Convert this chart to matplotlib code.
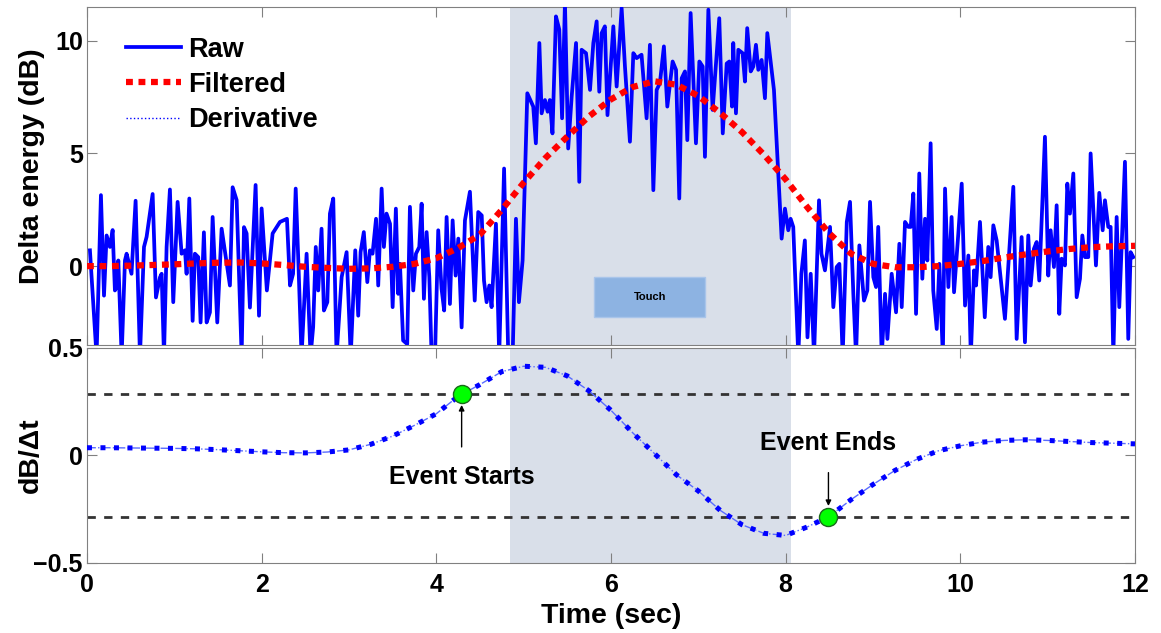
import matplotlib.pyplot as plt
from matplotlib.lines import Line2D
from matplotlib.patches import Rectangle
import numpy as np

plt.rcParams['font.family'] = ['Liberation Sans', 'DejaVu Sans']
plt.rcParams['font.weight'] = 'bold'
plt.rcParams['axes.labelweight'] = 'bold'

# raw delta energy samples (time in s, value in dB)
t_raw = [0.034, 0.11, 0.16, 0.195, 0.225, 0.263, 0.294, 0.32, 0.34, 0.359, 0.397, 0.435, 0.454, 0.51,
         0.557, 0.607, 0.653, 0.683, 0.752, 0.79, 0.836, 0.855, 0.882, 0.912, 0.95, 0.988, 1.038, 1.084,
         1.122, 1.141, 1.172, 1.21, 1.236, 1.274, 1.301, 1.339, 1.37, 1.408, 1.439, 1.492, 1.542, 1.637,
         1.668, 1.714, 1.771, 1.798, 1.828, 1.866, 1.931, 1.97, 2.0, 2.06, 2.126, 2.21, 2.29, 2.325,
         2.36, 2.39, 2.42, 2.457, 2.515, 2.56, 2.59, 2.62, 2.648, 2.686, 2.713, 2.752, 2.782, 2.82,
         2.858, 2.916, 2.973, 3.02, 3.072, 3.106, 3.133, 3.17, 3.21, 3.24, 3.27, 3.31, 3.335, 3.374,
         3.40, 3.43, 3.47, 3.50, 3.537, 3.564, 3.584, 3.62, 3.667, 3.698, 3.736, 3.767, 3.805, 3.832,
         3.858, 3.889, 3.92, 3.946, 3.985, 4.022, 4.06, 4.09, 4.118, 4.156, 4.187, 4.221, 4.252, 4.29,
         4.328, 4.385, 4.44, 4.48, 4.52, 4.546, 4.576, 4.607, 4.633, 4.683, 4.72, 4.776, 4.824, 4.874,
         4.912, 4.946, 4.988, 5.042, 5.11, 5.14, 5.18, 5.206, 5.244, 5.275, 5.30, 5.33, 5.37, 5.408,
         5.44, 5.473, 5.51, 5.55, 5.6, 5.637, 5.664, 5.714, 5.76, 5.798, 5.836, 5.866, 5.893, 5.93,
         5.96, 6.027, 6.065, 6.122, 6.16, 6.217, 6.256, 6.294, 6.35, 6.408, 6.446, 6.485, 6.523, 6.56,
         6.606, 6.645, 6.706, 6.745, 6.782, 6.81, 6.847, 6.874, 6.912, 6.973, 7.012, 7.05, 7.076, 7.115,
         7.164, 7.24, 7.28, 7.325, 7.355, 7.386, 7.4, 7.431, 7.458, 7.507, 7.534, 7.56, 7.6, 7.63,
         7.66, 7.687, 7.725, 7.763, 7.79, 7.866, 7.954, 7.992, 8.03, 8.057, 8.087, 8.145, 8.18, 8.22,
         8.25, 8.287, 8.325, 8.382, 8.41, 8.45, 8.508, 8.546, 8.584, 8.615, 8.653, 8.7, 8.737, 8.775,
         8.806, 8.844, 8.897, 8.935, 8.966, 9.004, 9.035, 9.06, 9.1, 9.138, 9.165, 9.214, 9.264, 9.302,
         9.329, 9.367, 9.405, 9.432, 9.462, 9.493, 9.53, 9.565, 9.596, 9.622, 9.66, 9.69, 9.73, 9.76,
         9.8, 9.825, 9.863, 9.9, 9.928, 9.977, 10.016, 10.054, 10.092, 10.12, 10.157, 10.18, 10.225,
         10.28, 10.32, 10.347, 10.378, 10.416, 10.511, 10.607, 10.645, 10.702, 10.74, 10.778, 10.805,
         10.843, 10.874, 10.904, 10.969, 11.007, 11.034, 11.072, 11.103, 11.133, 11.16, 11.198, 11.225,
         11.255, 11.294, 11.332, 11.37, 11.397, 11.427, 11.465, 11.492, 11.553, 11.591, 11.63, 11.656,
         11.694, 11.721, 11.752, 11.79, 11.82, 11.885, 11.923, 11.95, 11.98]
raw = [0.7, -4, 3.15, -1.31, 1.36, 0.85, 1.6, -1.08, -0.94, 0.25, -4, 0.25, 0.55, -0.34,
       2.9, -4, 0.85, 1.3, 3.2, -1.39, -0.5, -0.34, -4, 0.85, 3.4, -1.6, 2.85, 0.55,
       0.7, -0.34, 3.0, -2.43, 0.55, 0.4, -2.5, 1.5, -2.5, -2.05, 2.18, -2.5, 1.66, -0.86,
       3.5, 2.93, -4, 1.73, 1.45, -1.84, 3.6, -2.2, 2.56, -1.08, 1.45, 1.96, 2.1, -0.86,
       -0.34, 3.44, 0.25, -4, 0.55, -4, -2.7, 0.85, -1.08, 1.66, -1.97, -1.6, 2.33, 3.0,
       -4, -0.49, 0.62, -4, 0.7, -2.2, 0.62, 1.51, -0.71, 0.7, 0.55, 2.1, -0.86, 3.44,
       0.85, 2.33, 1.88, -1.82, 2.55, -1.23, 0.1, -3.3, -3.46, 2.63, -1.08, 0.55, 0.85, 2.77,
       -1.45, 1.51, -0.49, -4, -4, 1.59, -1.0, -1.97, 2.18, -1.68, 2.03, -0.42, 1.22, -2.72,
       2.03, 3.3, -1.53, 2.4, 2.25, -0.64, -1.6, -0.86, -1.82, 1.88, -4, 4.33, -4, -4,
       2.1, -1.6, 0.25, 7.67, 7.08, 5.45, 9.9, 6.78, 7.37, 6.85, 7.37, 5.89, 11.08, 10.5,
       6.56, 11.7, 5.22, 7.52, 9.9, 3.74, 9.6, 9.45, 7.82, 9.9, 10.86, 7.74, 10.34, 10.64,
       6.7, 10.64, 7.97, 11.45, 8.86, 5.52, 9.45, 9.23, 9.38, 6.56, 9.82, 3.37, 7.82, 8.12,
       9.75, 7.08, 9.08, 8.71, 3.0, 8.34, 8.64, 5.59, 11.23, 5.45, 9.08, 8.86, 4.85, 11.38,
       6.93, 11.0, 5.89, 8.99, 9.08, 7.08, 9.9, 6.78, 9.6, 9.45, 8.19, 10.56, 8.64, 8.86,
       9.82, 8.71, 9.15, 7.45, 10.34, 7.82, 1.22, 2.55, 1.59, 2.1, 1.74, -4, -0.34, 1.14,
       -3.16, -0.34, -4, 2.92, 0.55, -0.19, 1.74, -1.82, -0.04, 0.1, -4, 1.96, 2.85, -1.23,
       -4, 0.92, -1.53, -1.08, 2.85, -0.49, -0.93, 1.74, -4, -1.23, -3.23, -0.34, -2.05, 0.99,
       -1.82, 1.96, 1.74, 1.74, 3.22, -2.12, 4.11, -0.56, 2.1, 0.25, 5.45, -1.08, -2.79, 0.1,
       -4, 3.44, -0.93, 2.18, -1.16, 1.44, 3.66, -1.75, 0.47, -4, -0.19, -0.86, 1.96,
       -2.27, 0.85, -0.49, 1.81, 1.14, -2.34, 3.52, -3.23, 1.29, -3.38, 1.36, -0.86,
       0.77, 1.07, -0.64, 5.74, -0.42, 1.59, -0.04, 2.7, -2.12, 0.33, 0.03, 3.66,
       2.33, 4.11, -1.38, -0.56, 1.36, 0.4, 0.4, 5.0, 0.03, 3.25, 1.59, 2.92,
       1.74, 1.74, -4, 2.18, -1.82, 4.63, -3.23, 0.62, 0.4]

# smoothed energy and its derivative, sampled every 0.25 s
t_smooth = [0.0, 0.25, 0.5, 0.75, 1.0, 1.25, 1.5, 1.75, 2.0, 2.25, 2.5, 2.75, 3.0, 3.25, 3.5, 3.75,
            4.0, 4.25, 4.5, 4.75, 5.0, 5.25, 5.5, 5.75, 6.0, 6.25, 6.5, 6.75, 7.0, 7.25, 7.5, 7.75,
            8.0, 8.25, 8.5, 8.75, 9.0, 9.25, 9.5, 9.75, 10.0, 10.25, 10.5, 10.75, 11.0, 11.25, 11.5,
            11.75, 12.0]
filtered = [0.0, 0.0, 0.02, 0.05, 0.08, 0.12, 0.15, 0.16, 0.12, 0.05, -0.03, -0.08, -0.12, -0.1,
            -0.03, 0.1, 0.35, 0.8, 1.4, 2.5, 3.7, 4.8, 5.75, 6.65, 7.4, 7.95, 8.2, 8.05, 7.55, 6.8,
            5.95, 4.95, 3.85, 2.6, 1.45, 0.55, 0.1, -0.05, -0.05, 0.0, 0.1, 0.22, 0.38, 0.52, 0.65,
            0.76, 0.84, 0.88, 0.9]
derivative = [0.036, 0.036, 0.035, 0.034, 0.033, 0.031, 0.027, 0.022, 0.017, 0.013, 0.012, 0.016,
              0.026, 0.052, 0.09, 0.14, 0.194, 0.275, 0.33, 0.39, 0.415, 0.41, 0.37, 0.3, 0.21,
              0.105, 0.008, -0.09, -0.165, -0.255, -0.322, -0.362, -0.372, -0.332, -0.283, -0.205,
              -0.135, -0.07, -0.018, 0.022, 0.045, 0.062, 0.07, 0.073, 0.07, 0.065, 0.06, 0.057,
              0.054]

threshold = 0.285
touch_span = (4.84, 8.06)
event_start = 4.29
event_end = 8.49

blue = '#0000ff'
shade = '#d9dfe9'
frame = '#808080'

fig = plt.figure(figsize=(11.61, 6.33), dpi=100)
ax1 = fig.add_axes([0.0749, 0.455, 0.9027, 0.534])
ax2 = fig.add_axes([0.0749, 0.1106, 0.9027, 0.3397], sharex=ax1)

for ax in (ax1, ax2):
    ax.axvspan(*touch_span, color=shade, zorder=0, lw=0)
    ax.tick_params(direction='in', top=True, right=True, length=7, color=frame,
                   labelsize=18)
    ax.tick_params(axis='y', pad=3)
    ax.tick_params(axis='x', pad=7)
    for s in ax.spines.values():
        s.set_color(frame)
    ax.set_xlim(0, 12)
    ax.set_xticks(range(0, 13, 2))

# top panel: raw and filtered energy
ax1.plot(t_raw, raw, color=blue, lw=2.7, zorder=3)
ax1.plot(t_smooth, filtered, color='#ff0000', lw=4.5, dashes=(1.1, 0.9), zorder=4)
ax1.set_ylim(-3.5, 11.5)
ax1.set_yticks([0, 5, 10])
ax1.tick_params(labelbottom=False)
ax1.set_ylabel('Delta energy (dB)', fontsize=20.5)
ax1.yaxis.set_label_coords(-0.04, 0.53)

ax1.add_patch(Rectangle((5.81, -2.27), 1.27, 1.78, facecolor='#8db3e2',
                        edgecolor='#a9c5ea', lw=1, zorder=2))
ax1.text(6.445, -1.38, 'Touch', fontsize=8, ha='center', va='center', zorder=5)

handles = [Line2D([], [], color=blue, lw=2.7),
           Line2D([], [], color='#ff0000', lw=4.5, dashes=(1.1, 0.9)),
           Line2D([], [], color=blue, lw=1, linestyle=':')]
ax1.legend(handles, ['Raw', 'Filtered', 'Derivative'], loc='upper left',
           bbox_to_anchor=(0.037, 0.912), frameon=False, fontsize=19.5,
           handlelength=2.05, handletextpad=0.25, labelspacing=0.34,
           borderaxespad=0, borderpad=0)

# bottom panel: derivative with event thresholds
ax2.axhline(threshold, color='#333333', lw=2, dashes=(3, 3), zorder=2)
ax2.axhline(-threshold, color='#333333', lw=2, dashes=(3, 3), zorder=2)
ax2.plot(t_smooth, derivative, color='#5a6cff', lw=1.0, linestyle='-.', zorder=3)
ax2.plot(t_smooth, derivative, color=blue, lw=3.6, dashes=(1, 1.7), zorder=3)
ax2.plot([event_start], [threshold], 'o', ms=13, mfc='#00ff00', mec='#1a6a1a', mew=1, zorder=5)
ax2.plot([event_end], [-threshold], 'o', ms=13, mfc='#00ff00', mec='#1a6a1a', mew=1, zorder=5)
ax2.annotate('Event Starts', xy=(event_start, 0.235), xytext=(event_start, -0.1),
             fontsize=18, ha='center', va='center',
             arrowprops=dict(arrowstyle='-|>', color='black', lw=1, shrinkA=11, shrinkB=0,
                             mutation_scale=8))
ax2.annotate('Event Ends', xy=(event_end, -0.235), xytext=(event_end, 0.06),
             fontsize=18, ha='center', va='center',
             arrowprops=dict(arrowstyle='-|>', color='black', lw=1, shrinkA=11, shrinkB=0,
                             mutation_scale=8))
ax2.set_ylim(-0.5, 0.5)
ax2.set_yticks([-0.5, 0, 0.5])
ax2.set_yticklabels(['\u22120.5', '0', '0.5'])
ax2.set_ylabel('dB/\u0394t', fontsize=20.5)
ax2.yaxis.set_label_coords(-0.041, 0.5)
ax2.set_xlabel('Time (sec)', fontsize=20.5)
ax2.xaxis.set_label_coords(0.5, -0.185)

fig.savefig('out.png', dpi=100)
